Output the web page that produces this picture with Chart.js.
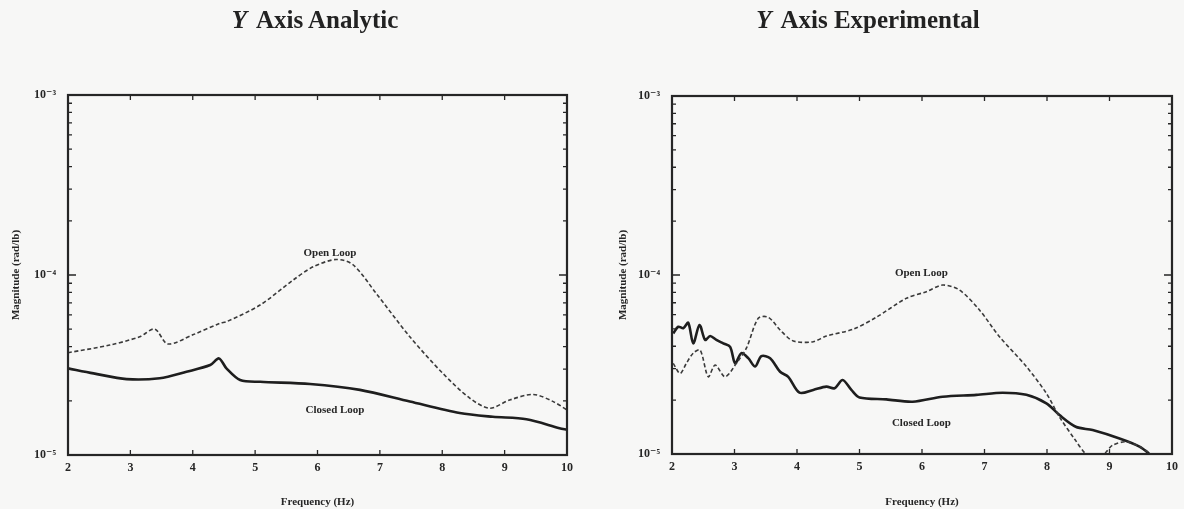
<!DOCTYPE html>
<html>
<head>
<meta charset="utf-8">
<script src="https://cdn.jsdelivr.net/npm/chart.js@4.4.1/dist/chart.umd.min.js"></script>
<style>
  html, body { margin: 0; padding: 0; background: #f7f7f6; }
  body { width: 1184px; height: 509px; position: relative; overflow: hidden; font-family: "Liberation Serif", "DejaVu Serif", serif; }
  .wrap { position: absolute; top: 0; width: 592px; height: 509px; }
  .title { position: absolute; top: 6px; font-size: 25px; font-weight: bold; color: #222; white-space: nowrap; transform: translateX(-50%); }
  .title i { font-weight: bold; margin-right: 4px; }
</style>
</head>
<body>
<div class="wrap" style="left:0"><canvas id="c1" width="592" height="509"></canvas></div>
<div class="wrap" style="left:592px"><canvas id="c2" width="592" height="509"></canvas></div>
<div class="title" style="left:315px"><i>Y</i> Axis Analytic</div>
<div class="title" style="left:868px"><i>Y</i> Axis Experimental</div>
<script>
// ---- Data (frequency in Hz, magnitude in rad/lb) ----
const xTicks = [2, 3, 4, 5, 6, 7, 8, 9, 10];
const yTicks = [1e-5, 1e-4, 1e-3];

const freqAnaOpen = [2.0, 2.67, 3.15, 3.39, 3.60, 4.0, 4.44, 4.54, 5.08, 5.61, 5.93, 6.30, 6.57, 6.94, 7.48, 8.01, 8.44, 8.76, 9.08, 9.46, 9.78, 10.0];
const magAnaOpen  = [3.70e-5, 4.08e-5, 4.54e-5, 5.01e-5, 4.14e-5, 4.65e-5, 5.40e-5, 5.50e-5, 6.81e-5, 9.38e-5, 1.11e-4, 1.22e-4, 1.14e-4, 7.91e-5, 4.54e-5, 2.84e-5, 2.07e-5, 1.82e-5, 2.02e-5, 2.17e-5, 1.98e-5, 1.78e-5];

const freqAnaClosed = [2.0, 2.41, 2.94, 3.47, 3.90, 4.28, 4.42, 4.54, 4.76, 5.08, 5.88, 6.68, 7.48, 8.28, 8.81, 9.35, 9.88, 10.0];
const magAnaClosed  = [3.03e-5, 2.84e-5, 2.64e-5, 2.67e-5, 2.90e-5, 3.16e-5, 3.44e-5, 3.03e-5, 2.61e-5, 2.55e-5, 2.48e-5, 2.30e-5, 1.98e-5, 1.71e-5, 1.63e-5, 1.58e-5, 1.41e-5, 1.38e-5];

const freqExpOpen = [2.02, 2.13, 2.23, 2.34, 2.45, 2.58, 2.69, 2.85, 3.03, 3.19, 3.38, 3.54, 3.73, 3.94, 4.26, 4.47, 4.90, 5.27, 5.75, 6.07, 6.33, 6.60, 6.92, 7.24, 7.67, 7.99, 8.20, 8.45, 8.62, 8.80, 8.95, 9.05, 9.27, 9.48, 9.64, 9.75];
const magExpOpen  = [3.21e-5, 2.82e-5, 3.21e-5, 3.66e-5, 3.81e-5, 2.70e-5, 3.14e-5, 2.70e-5, 3.21e-5, 3.90e-5, 5.73e-5, 5.81e-5, 4.93e-5, 4.28e-5, 4.24e-5, 4.56e-5, 4.98e-5, 5.81e-5, 7.41e-5, 8.07e-5, 8.79e-5, 8.24e-5, 6.37e-5, 4.52e-5, 3.08e-5, 2.18e-5, 1.61e-5, 1.20e-5, 1.0e-5, 9.0e-6, 1.03e-5, 1.12e-5, 1.17e-5, 1.10e-5, 1.01e-5, 9.0e-6];

const freqExpClosed = [2.02, 2.10, 2.18, 2.26, 2.34, 2.44, 2.53, 2.61, 2.71, 2.82, 2.93, 3.01, 3.11, 3.22, 3.33, 3.43, 3.57, 3.73, 3.86, 4.04, 4.26, 4.47, 4.60, 4.73, 4.87, 5.00, 5.43, 5.85, 6.33, 6.87, 7.29, 7.67, 7.99, 8.20, 8.46, 8.73, 9.16, 9.48, 9.64, 9.70];
const magExpClosed  = [4.72e-5, 5.14e-5, 5.04e-5, 5.41e-5, 4.15e-5, 5.26e-5, 4.34e-5, 4.56e-5, 4.34e-5, 4.15e-5, 3.97e-5, 3.21e-5, 3.66e-5, 3.43e-5, 3.08e-5, 3.52e-5, 3.43e-5, 2.88e-5, 2.70e-5, 2.20e-5, 2.28e-5, 2.38e-5, 2.33e-5, 2.59e-5, 2.28e-5, 2.07e-5, 2.02e-5, 1.96e-5, 2.09e-5, 2.14e-5, 2.20e-5, 2.14e-5, 1.92e-5, 1.65e-5, 1.42e-5, 1.36e-5, 1.22e-5, 1.10e-5, 1.0e-5, 9.5e-6];

const labelsAna = [{text: 'Open Loop', x: 6.2, y: 1.32e-4}, {text: 'Closed Loop', x: 6.28, y: 1.78e-5}];
const labelsExp = [{text: 'Open Loop', x: 5.99, y: 1.03e-4}, {text: 'Closed Loop', x: 5.99, y: 1.49e-5}];

// ---- helpers ----
const pts = (xs, ys) => xs.map((x, i) => ({x: x, y: ys[i]}));
const SERIF = '"Liberation Serif", "DejaVu Serif", serif';
const INK = '#262626';
const supMap = {'-': '\u207B', '0': '\u2070', '1': '\u00B9', '2': '\u00B2', '3': '\u00B3', '4': '\u2074', '5': '\u2075', '6': '\u2076', '7': '\u2077', '8': '\u2078', '9': '\u2079'};
const expLabel = v => '10' + String(Math.round(Math.log10(v))).split('').map(c => supMap[c]).join('');

const framePlugin = {
  id: 'frameTicks',
  afterDatasetsDraw(chart, args, opts) {
    const {ctx, chartArea: a, scales: {x, y}} = chart;
    ctx.save();
    ctx.strokeStyle = INK;
    ctx.lineWidth = 1.3;
    xTicks.forEach(v => {
      const px = x.getPixelForValue(v);
      ctx.beginPath();
      ctx.moveTo(px, a.bottom); ctx.lineTo(px, a.bottom - 5);
      ctx.moveTo(px, a.top); ctx.lineTo(px, a.top + 5);
      ctx.stroke();
    });
    for (let e = -5; e < -3; e++) {
      for (let m = 1; m <= 9; m++) {
        const v = m * Math.pow(10, e);
        const py = y.getPixelForValue(v);
        const len = m === 1 ? 8 : 4;
        ctx.beginPath();
        ctx.moveTo(a.left, py); ctx.lineTo(a.left + len, py);
        ctx.moveTo(a.right, py); ctx.lineTo(a.right - len, py);
        ctx.stroke();
      }
    }
    ctx.lineWidth = 2.2;
    ctx.strokeRect(a.left, a.top, a.right - a.left, a.bottom - a.top);
    ctx.fillStyle = INK;
    ctx.font = 'bold 11px ' + SERIF;
    ctx.textAlign = 'center';
    ctx.textBaseline = 'middle';
    (opts.items || []).forEach(it => {
      ctx.fillText(it.text, x.getPixelForValue(it.x), y.getPixelForValue(it.y));
    });
    ctx.restore();
  }
};

function makeChart(id, openPts, closedPts, labels, area) {
  const ctx = document.getElementById(id);
  return new Chart(ctx, {
    type: 'line',
    data: {
      datasets: [
        {label: 'Open Loop', data: openPts, borderColor: '#3a3a3a', borderWidth: 1.6, borderDash: [4, 2.5], pointRadius: 0, tension: 0.3, fill: false},
        {label: 'Closed Loop', data: closedPts, borderColor: '#1e1e1e', borderWidth: 2.6, pointRadius: 0, tension: 0.3, fill: false}
      ]
    },
    options: {
      responsive: false,
      animation: false,
      events: [],
      layout: {padding: {left: 0, right: area.right, top: area.top, bottom: 0}},
      plugins: {
        legend: {display: false},
        tooltip: {enabled: false},
        frameTicks: {items: labels}
      },
      scales: {
        x: {
          type: 'linear', min: 2, max: 10,
          afterBuildTicks: s => { s.ticks = xTicks.map(v => ({value: v})); },
          ticks: {color: INK, font: {family: SERIF, size: 12, weight: 'bold'}, padding: 6, maxRotation: 0, callback: v => String(v)},
          grid: {display: false, drawTicks: false},
          border: {display: false},
          title: {display: true, text: 'Frequency (Hz)', color: INK, font: {family: SERIF, size: 11, weight: 'bold'}, padding: {top: 10, bottom: 0}},
          afterFit: s => { s.height = area.xh; }
        },
        y: {
          type: 'logarithmic', min: 1e-5, max: 1e-3,
          afterBuildTicks: s => { s.ticks = yTicks.map(v => ({value: v})); },
          ticks: {color: INK, font: {family: SERIF, size: 12, weight: 'bold'}, padding: area.tp, callback: v => expLabel(v)},
          grid: {display: false, drawTicks: false},
          border: {display: false},
          title: {display: true, text: 'Magnitude (rad/lb)', color: INK, font: {family: SERIF, size: 11, weight: 'bold'}, padding: {top: area.tt, bottom: 0}},
          afterFit: s => { s.width = area.left; }
        }
      }
    },
    plugins: [framePlugin]
  });
}

makeChart('c1', pts(freqAnaOpen, magAnaOpen), pts(freqAnaClosed, magAnaClosed), labelsAna,
  {left: 68, right: 25, top: 95, xh: 54, tp: 12, tt: 10});
makeChart('c2', pts(freqExpOpen, magExpOpen), pts(freqExpClosed, magExpClosed), labelsExp,
  {left: 80, right: 11, top: 96, xh: 55, tp: 12, tt: 25});
</script>
</body>
</html>
